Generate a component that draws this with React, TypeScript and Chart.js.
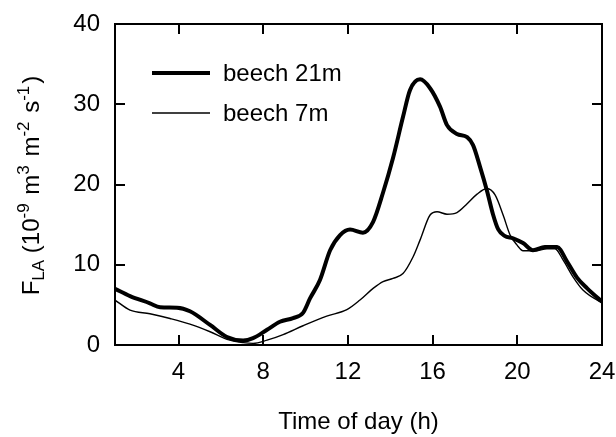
import { useEffect, useRef } from "react";
import { Chart, registerables } from "chart.js";

Chart.register(...registerables);

const hours21 = [1.0, 1.71, 2.65, 3.13, 3.93, 4.54, 5.49, 6.29, 7.05, 7.52, 8.18, 8.79, 9.41, 9.88, 10.21, 10.68, 11.16, 11.63, 12.1, 12.71, 13.19, 13.66, 14.13, 14.6, 14.93, 15.41, 15.88, 16.35, 16.68, 17.15, 17.63, 17.91, 18.24, 18.57, 18.85, 19.1, 19.4, 19.8, 20.27, 20.74, 21.3, 21.88, 22.35, 22.82, 23.3, 23.91, 24];
const beech21 = [7.0, 6.1, 5.2, 4.7, 4.65, 4.2, 2.5, 1.0, 0.55, 0.85, 1.9, 2.9, 3.35, 4.0, 5.8, 8.1, 11.8, 13.7, 14.4, 14.0, 15.35, 19.0, 23.3, 28.4, 31.75, 33.1, 32.0, 29.7, 27.4, 26.3, 25.9, 24.9, 22.2, 19.2, 16.3, 14.4, 13.6, 13.3, 12.7, 11.8, 12.2, 12.2, 10.4, 8.4, 7.05, 5.6, 5.4];

const hours7 = [1.0, 1.71, 2.65, 3.6, 4.54, 5.49, 6.29, 7.05, 7.52, 8.18, 8.94, 9.88, 11.0, 11.95, 12.57, 13.19, 13.66, 14.13, 14.6, 15.08, 15.41, 15.88, 16.21, 16.68, 17.15, 17.63, 18.1, 18.57, 18.95, 19.33, 19.66, 19.99, 20.27, 20.93, 21.4, 21.78, 22.16, 22.63, 23.1, 23.91, 24];
const beech7 = [5.6, 4.35, 3.9, 3.3, 2.6, 1.65, 0.7, 0.3, 0.2, 0.6, 1.3, 2.4, 3.6, 4.4, 5.6, 7.05, 7.9, 8.3, 8.9, 11.0, 13.1, 16.2, 16.6, 16.3, 16.5, 17.6, 18.8, 19.5, 18.7, 16.2, 13.7, 12.45, 11.75, 11.75, 12.0, 12.0, 10.6, 8.5, 6.85, 5.4, 5.3];

const seriesLabels = ["beech 21m", "beech 7m"];
const xTicks = [4, 8, 12, 16, 20, 24];
const yTicks = [0, 10, 20, 30, 40];
const xTitle = "Time of day (h)";
const yTitleParts: [string, string][] = [
  ["F", "n"], ["LA", "sub"], [" (10", "n"], ["-9", "sup"], [" m", "n"], ["3", "sup"],
  [" m", "n"], ["-2", "sup"], [" s", "n"], ["-1", "sup"], [")", "n"],
];

const FONT = "'Liberation Sans', Arial, sans-serif";
const FS = 24;

const framePlugin = {
  id: "frame",
  afterDatasetsDraw(chart: any) {
    const ctx = chart.ctx;
    const { left, right, top, bottom } = chart.chartArea;
    const xs = chart.scales.x;
    const ys = chart.scales.y;
    ctx.save();
    ctx.strokeStyle = "#000";
    ctx.lineWidth = 2;
    ctx.strokeRect(left, top, right - left, bottom - top);
    const tl = 10;
    ctx.beginPath();
    for (const v of xTicks) {
      const px = Math.round(xs.getPixelForValue(v));
      ctx.moveTo(px, bottom); ctx.lineTo(px, bottom - tl);
      ctx.moveTo(px, top); ctx.lineTo(px, top + tl);
    }
    for (const v of yTicks) {
      const py = Math.round(ys.getPixelForValue(v));
      ctx.moveTo(left, py); ctx.lineTo(left + tl, py);
      ctx.moveTo(right, py); ctx.lineTo(right - tl, py);
    }
    ctx.stroke();

    const ds = chart.data.datasets;
    const rows = [73, 113];
    ds.forEach((d: any, i: number) => {
      const y = rows[i];
      ctx.beginPath();
      ctx.lineWidth = d.borderWidth;
      ctx.strokeStyle = d.borderColor;
      ctx.moveTo(152, y); ctx.lineTo(210, y);
      ctx.stroke();
      ctx.fillStyle = "#000";
      ctx.font = `${FS}px ${FONT}`;
      ctx.textBaseline = "middle";
      ctx.textAlign = "left";
      ctx.fillText(d.label, 223, y + 1);
    });

    const small = 17;
    const gap = 2;
    let total = 0;
    for (const [t, k] of yTitleParts) {
      ctx.font = `${k === "n" ? FS : small}px ${FONT}`;
      total += ctx.measureText(t).width + (k === "sup" ? gap : 0);
    }
    const cy = (top + bottom) / 2 + 1;
    ctx.translate(39, cy);
    ctx.rotate(-Math.PI / 2);
    ctx.textBaseline = "alphabetic";
    ctx.textAlign = "left";
    let x = -total / 2;
    for (const [t, k] of yTitleParts) {
      ctx.font = `${k === "n" ? FS : small}px ${FONT}`;
      const dy = k === "sub" ? 5 : k === "sup" ? -10 : 0;
      ctx.fillText(t, x, dy);
      x += ctx.measureText(t).width + (k === "sup" ? gap : 0);
    }
    ctx.restore();
  },
};

export default function App() {
  const ref = useRef<HTMLCanvasElement | null>(null);
  useEffect(() => {
    document.body.style.margin = "0";
    const canvas = ref.current;
    if (!canvas) return;
    const chart = new Chart(canvas, {
      type: "line",
      data: {
        datasets: [
          {
            label: seriesLabels[0],
            data: hours21.map((h, i) => ({ x: h, y: beech21[i] })),
            borderColor: "#000",
            borderWidth: 4,
            pointRadius: 0,
            cubicInterpolationMode: "monotone",
            fill: false,
          },
          {
            label: seriesLabels[1],
            data: hours7.map((h, i) => ({ x: h, y: beech7[i] })),
            borderColor: "#000",
            borderWidth: 1.4,
            pointRadius: 0,
            cubicInterpolationMode: "monotone",
            fill: false,
          },
        ],
      },
      options: {
        animation: false,
        responsive: false,
        maintainAspectRatio: false,
        layout: { padding: { left: 0, top: 24, right: 14, bottom: 0 } },
        plugins: { legend: { display: false }, tooltip: { enabled: false } },
        scales: {
          x: {
            type: "linear",
            min: 1,
            max: 24,
            grid: { display: false, drawTicks: false },
            border: { display: false },
            afterBuildTicks: (s: any) => { s.ticks = xTicks.map((v) => ({ value: v })); },
            afterFit: (s: any) => {
              s.height = 92;
              s.paddingLeft = 0; s.paddingRight = 0; s.paddingTop = 0; s.paddingBottom = 0;
            },
            ticks: {
              autoSkip: false,
              maxRotation: 0,
              padding: 13,
              color: "#000",
              font: { family: FONT, size: FS },
              callback: (v: any) => String(v),
            },
            title: {
              display: true,
              text: xTitle,
              color: "#000",
              font: { family: FONT, size: FS },
              padding: { top: 0, bottom: 0 },
            },
          },
          y: {
            type: "linear",
            min: 0,
            max: 40,
            grid: { display: false, drawTicks: false },
            border: { display: false },
            afterBuildTicks: (s: any) => { s.ticks = yTicks.map((v) => ({ value: v })); },
            afterFit: (s: any) => {
              s.width = 115;
              s.paddingLeft = 0; s.paddingRight = 0; s.paddingTop = 0; s.paddingBottom = 0;
            },
            ticks: {
              padding: 15,
              color: "#000",
              font: { family: FONT, size: FS },
              callback: (v: any) => String(v),
            },
          },
        },
      },
      plugins: [framePlugin],
    } as any);
    return () => chart.destroy();
  }, []);
  return (
    <div style={{ width: 616, height: 437, background: "#fff" }}>
      <canvas ref={ref} width={616} height={437} style={{ display: "block" }} />
    </div>
  );
}
